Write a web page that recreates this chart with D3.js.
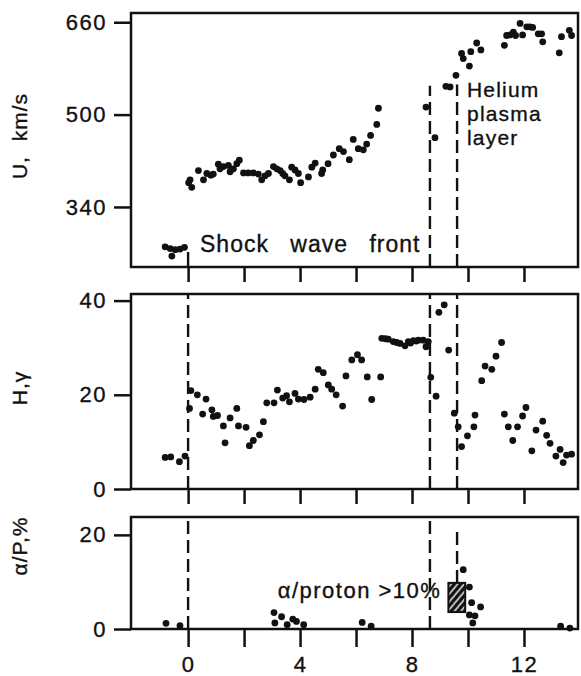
<!DOCTYPE html>
<html>
<head>
<meta charset="utf-8">
<script src="https://cdn.jsdelivr.net/npm/d3@7"></script>
<style>
  body { margin: 0; background: #fff; }
  svg text { font-family: "Liberation Sans", Arial, sans-serif; fill: #111; stroke: #111; stroke-width: 0.35px; }
</style>
</head>
<body>
<div id="chart"></div>
<script>
// hours relative to the shock at the spacecraft
var timeTicks = [0, 2, 4, 6, 8, 10, 12],
    timeLabels = [0, 4, 8, 12];

var speedTicks = [340, 500, 660],
    hTicks = [0, 20, 40],
    alphaTicks = [0, 20];

// solar wind speed, km/s
var speedPts = [
  [-0.82,271],[-0.64,268],[-0.58,255],[-0.46,266],[-0.29,267],[-0.13,270],
  [0.02,382],[0.07,387],[0.13,374],[0.37,403],[0.55,387],[0.67,398],[0.81,395],[0.9,397],
  [1.08,414],[1.14,406],[1.26,410],[1.44,412],[1.5,401],[1.62,406],[1.74,415],[1.83,421],
  [1.98,399],[2.15,399],[2.33,399],[2.51,397],[2.63,387],[2.75,394],[2.87,398],[3.05,410],
  [3.17,406],[3.29,403],[3.38,398],[3.46,394],[3.62,387],[3.7,409],[3.82,404],[3.94,398],
  [4.02,382],[4.3,392],[4.42,409],[4.54,416],[4.77,398],[4.81,404],[5.0,415],[5.19,430],
  [5.4,441],[5.55,436],[5.76,422],[5.9,457],[6.08,441],[6.26,439],[6.38,449],[6.52,464],
  [6.74,483],[6.8,511],
  [8.5,513],[8.82,460],[9.21,549],[9.36,548],[9.57,568],[9.77,606],[9.83,597],[10.05,584],
  [10.1,609],[10.31,624],[10.46,612],[11.3,620],[11.38,637],[11.5,638],[11.62,643],[11.7,637],
  [11.86,658],[11.95,638],[12.1,652],[12.21,652],[12.31,651],[12.51,640],[12.63,640],[12.67,626],
  [13.26,607],[13.34,635],[13.62,646],[13.7,637]
];

// H, gamma
var hPts = [
  [-0.82,6.7],[-0.62,6.8],[-0.31,5.8],[-0.11,7.0],[0.05,17.1],[0.1,20.9],[0.33,20.0],[0.52,15.9],
  [0.64,19.1],[0.85,16.8],[0.9,15.4],[1.05,15.6],[1.26,13.4],[1.32,9.8],[1.5,15.1],[1.74,17.1],
  [1.8,13.4],[2.07,13.1],[2.19,9.2],[2.33,10.3],[2.55,11.5],[2.69,14.3],[2.81,18.3],[3.07,18.3],
  [3.19,21.0],[3.38,19.3],[3.52,19.8],[3.62,18.5],[3.82,20.3],[3.94,19.1],[4.14,19.0],[4.36,19.5],
  [4.54,21.2],[4.65,25.4],[4.83,24.7],[5.01,22.1],[5.13,21.2],[5.29,20.0],[5.52,17.6],[5.64,24.0],
  [5.85,27.4],[6.05,28.5],[6.2,27.4],[6.4,23.8],[6.56,19.0],[6.88,23.8],[6.92,32.0],[7.05,31.9],
  [7.15,31.8],[7.33,31.3],[7.45,31.1],[7.57,30.9],[7.75,30.4],[7.87,31.3],[7.95,31.0],[8.05,31.5],
  [8.15,31.4],[8.23,31.6],[8.4,31.6],[8.5,30.2],[8.58,31.3],[8.67,23.7],[8.86,19.7],[8.96,37.5],
  [9.15,39.1],[9.31,29.5],[9.51,16.1],[9.65,13.2],[9.77,9.0],[9.98,11.3],[10.21,13.2],[10.25,15.7],
  [10.49,23.0],[10.61,26.1],[10.85,25.4],[11.0,28.2],[11.2,31.1],[11.3,15.9],[11.44,13.2],[11.6,10.3],
  [11.77,13.2],[11.95,15.5],[12.07,17.3],[12.28,8.1],[12.43,12.5],[12.67,14.4],[12.81,11.4],[12.93,9.7],
  [13.14,7.0],[13.29,8.4],[13.4,5.6],[13.52,7.2],[13.7,7.4]
];

// alpha / proton ratio, %
var alphaPts = [
  [-0.79,1.2],[-0.29,0.7],[3.07,3.5],[3.1,1.3],[3.34,2.6],[3.54,0.9],[3.74,2.1],[3.87,1.6],
  [4.13,0.9],[6.22,1.4],[6.54,0.6],[9.83,12.6],[10.05,8.9],[10.13,5.6],[10.45,4.7],[10.05,3.0],
  [10.25,2.8],[10.17,1.3],[13.31,0.6],[13.64,0.2]
];

var shockT = 8.64, heliumT = 9.61;
var boxT = [9.3, 9.9], boxV = [3.6, 9.8];

var width = 581, height = 676,
    left = 131, right = 578;

var x = d3.scaleLinear()
    .domain([-2.04, 13.93])
    .range([left, right]);

var panels = [
  {top: 13, bottom: 267, domain: [236, 676], ticks: speedTicks, pts: speedPts, title: "U,  km/s", titleY: 136},
  {top: 294, bottom: 489, domain: [0, 41.4], ticks: hTicks, pts: hPts, title: "H,\u03b3", titleY: 388},
  {top: 517, bottom: 629, domain: [0, 23.8], ticks: alphaTicks, pts: alphaPts, title: "\u03b1/P,%", titleY: 546}
];

panels.forEach(p => {
  p.y = d3.scaleLinear().domain(p.domain).range([p.bottom, p.top]);
});

// vertical markers: [panel, time, from value, to value, dashed]
var guides = [
  [0, 0, 236, 262, false],
  [0, shockT, 236, 550, true],
  [0, heliumT, 236, 552, true],
  [1, 0, 0, 41.4, true],
  [1, shockT, 0, 41.4, true],
  [1, heliumT, 0, 41.4, true],
  [2, 0, 0, 23.8, true],
  [2, shockT, 0, 23.8, true],
  [2, heliumT, boxV[1], 20.6, true]
];

var svg = d3.select("#chart").append("svg")
    .attr("width", width)
    .attr("height", height);

var defs = svg.append("defs");
var hatch = defs.append("pattern")
    .attr("id", "hatch")
    .attr("patternUnits", "userSpaceOnUse")
    .attr("width", 5)
    .attr("height", 5)
    .attr("patternTransform", "rotate(40)");
hatch.append("rect")
    .attr("width", 5)
    .attr("height", 5)
    .attr("fill", "#111");
hatch.append("line")
    .attr("x1", 1).attr("y1", 0)
    .attr("x2", 1).attr("y2", 5)
    .attr("stroke", "#fff")
    .attr("stroke-width", 1.4);

panels.forEach((p, i) => {
  var g = svg.append("g");

  // guides first so dots sit on top
  guides.filter(d => d[0] == i).forEach(d => {
    g.append("line")
        .attr("x1", x(d[1])).attr("x2", x(d[1]))
        .attr("y1", p.y(d[2])).attr("y2", p.y(d[3]))
        .attr("stroke", "#111")
        .attr("stroke-width", 2.4)
        .attr("stroke-dasharray", d[4] ? "13,6" : null);
  });

  g.append("rect")
      .attr("x", left)
      .attr("y", p.top)
      .attr("width", right - left)
      .attr("height", p.bottom - p.top)
      .attr("fill", "none")
      .attr("stroke", "#111")
      .attr("stroke-width", 2.5);

  var yAxis = d3.axisLeft(p.y)
      .tickValues(p.ticks)
      .tickSize(17)
      .tickPadding(7)
      .tickSizeOuter(0);

  g.append("g")
      .attr("transform", `translate(${left},0)`)
      .call(yAxis)
      .call(a => a.select(".domain").remove())
      .call(a => a.selectAll("line").attr("stroke", "#111").attr("stroke-width", 2.5))
      .call(a => a.selectAll("text")
        .attr("font-size", 22)
        .attr("font-family", null)
        .attr("letter-spacing", 1.5)
        .attr("fill", "#111"));

  var xAxis = d3.axisBottom(x)
      .tickValues(timeTicks)
      .tickSize(i == 2 ? 18 : 15)
      .tickPadding(9)
      .tickSizeOuter(0)
      .tickFormat(d => i == 2 && timeLabels.includes(d) ? d : "");

  g.append("g")
      .attr("transform", `translate(0,${p.bottom})`)
      .call(xAxis)
      .call(a => a.select(".domain").remove())
      .call(a => a.selectAll("line").attr("stroke", "#111").attr("stroke-width", 2.5))
      .call(a => a.selectAll("text")
        .attr("font-size", 22)
        .attr("font-family", null)
        .attr("letter-spacing", 1.5)
        .attr("fill", "#111"));

  g.append("text")
      .attr("transform", `translate(27,${p.titleY}) rotate(-90)`)
      .attr("text-anchor", "middle")
      .attr("font-size", 21)
      .attr("letter-spacing", 1)
      .attr("word-spacing", 8)
      .text(p.title);

  g.append("g")
      .selectAll("circle")
      .data(p.pts)
    .enter().append("circle")
      .attr("cx", d => x(d[0]))
      .attr("cy", d => p.y(d[1]))
      .attr("r", 3.4)
      .attr("fill", "#111");
});

// hatched alpha/proton box
var pa = panels[2];
svg.append("rect")
    .attr("x", x(boxT[0]))
    .attr("y", pa.y(boxV[1]))
    .attr("width", x(boxT[1]) - x(boxT[0]))
    .attr("height", pa.y(boxV[0]) - pa.y(boxV[1]))
    .attr("fill", "url(#hatch)")
    .attr("stroke", "#111")
    .attr("stroke-width", 2);

svg.append("text")
    .attr("x", x(boxT[0]) - 7)
    .attr("y", 598)
    .attr("text-anchor", "end")
    .attr("font-size", 22)
    .attr("letter-spacing", 1.5)
    .text("\u03b1/proton >10%");

svg.append("text")
    .attr("x", 200)
    .attr("y", 252)
    .attr("font-size", 23)
    .attr("letter-spacing", 1)
    .attr("word-spacing", 14)
    .text("Shock wave front");

svg.append("text")
    .attr("font-size", 21)
    .attr("letter-spacing", 1.2)
    .selectAll("tspan")
    .data(["Helium", "plasma", "layer"])
    .join("tspan")
      .attr("x", 467)
      .attr("y", (d, i) => 97 + i * 24)
      .text(d => d);
</script>
</body>
</html>
